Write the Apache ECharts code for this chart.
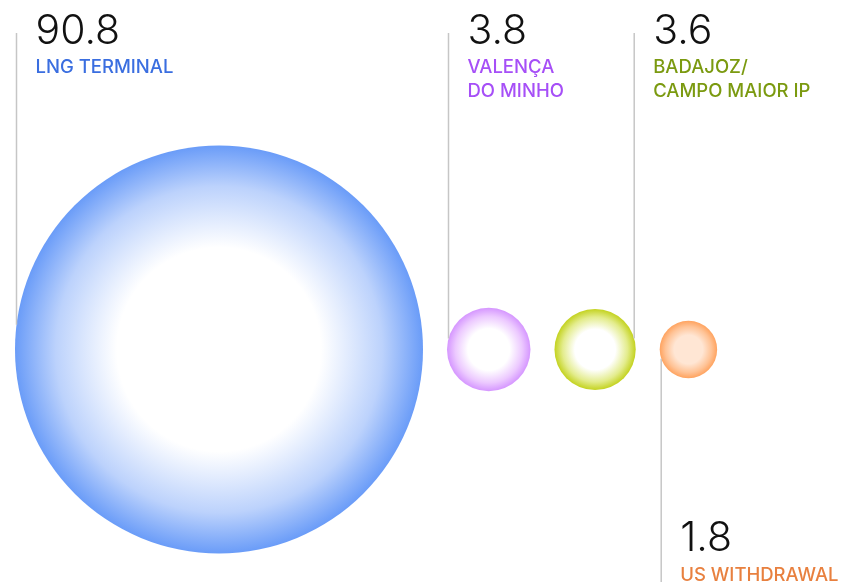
<!DOCTYPE html>
<html>
<head>
<meta charset="utf-8">
<script src="https://cdn.jsdelivr.net/npm/echarts@6/dist/echarts.min.js"></script>
<style>
html,body{margin:0;padding:0;background:#fff;}
#chart{width:843px;height:582px;}
</style>
</head>
<body>
<div id="chart"></div>
<script>
// ---- data ----
const categories = ['LNG TERMINAL', 'VALENÇA\nDO MINHO', 'BADAJOZ/\nCAMPO MAIOR IP', 'US WITHDRAWAL'];
const values = [90.8, 3.8, 3.6, 1.8];
const valueLabels = ['90.8', '3.8', '3.6', '1.8'];

// ---- styles ----
const edgeColors = ['#6a9cf8', '#d596ff', '#c3d21e', '#ffa35f'];
const midColors = ['#bcd2fc', '#ecc9ff', '#e3ec8c', '#ffc396'];
const coreColors = ['#ffffff', '#ffffff', '#ffffff', '#ffe6d4'];
const labelColors = ['#3a6ee0', '#a64ff7', '#7b9a10', '#e8803f'];
const leaderSide = ['left', 'left', 'right', 'left'];
const leaderDir = ['up', 'up', 'up', 'down'];

const W = 843, H = 582;
const MAX_R = 204, GAP = 24, START_X = 15, CY = 349.5;
const maxV = Math.max.apply(null, values);
const radii = values.map(v => MAX_R * Math.sqrt(v / maxV));
const centers = [];
let edge = START_X;
radii.forEach((r, i) => { centers.push(edge + r); edge += 2 * r + GAP; });

const seriesData = values.map((v, i) => [centers[i], CY, v, i]);

const chart = echarts.init(document.getElementById('chart'), null, {renderer: 'canvas'});

function renderItem(params, api) {
  const i = api.value(3);
  const c = api.coord([api.value(0), api.value(1)]);
  const r = api.size([radii[i], 0])[0];
  const children = [];
  children.push({
    type: 'circle',
    shape: {cx: c[0], cy: c[1], r: r},
    style: {
      fill: {
        type: 'radial', x: 0.5, y: 0.5, r: 0.5,
        colorStops: [
          {offset: 0, color: coreColors[i]},
          {offset: 0.5, color: coreColors[i]},
          {offset: 0.8, color: midColors[i]},
          {offset: 1, color: edgeColors[i]}
        ]
      }
    }
  });
  const inset = 1.5;
  const lx = leaderSide[i] === 'left' ? c[0] - r + inset : c[0] + r - inset;
  const dx = lx - c[0];
  const dy = Math.sqrt(Math.max(r * r - dx * dx, 0));
  let y1, y2;
  if (leaderDir[i] === 'up') { y1 = 33; y2 = c[1] - dy; }
  else { y1 = c[1] + dy; y2 = H; }
  children.push({
    type: 'line',
    shape: {x1: lx, y1: y1, x2: lx, y2: y2},
    style: {stroke: '#c6c6c6', lineWidth: 1.5}
  });
  const tx = lx + 19;
  const numTop = leaderDir[i] === 'up' ? 11 : 518;
  const labTop = leaderDir[i] === 'up' ? 55 : 563;
  children.push({
    type: 'text',
    style: {
      x: tx, y: numTop, text: valueLabels[i],
      fill: '#111111',
      font: '300 41px Inter, "Noto Sans", sans-serif',
      align: 'left', verticalAlign: 'top'
    }
  });
  children.push({
    type: 'text',
    style: {
      x: tx, y: labTop, text: categories[i],
      fill: labelColors[i],
      font: '500 18.5px Inter, "Noto Sans", sans-serif',
      lineHeight: 24,
      align: 'left', verticalAlign: 'top'
    }
  });
  return {type: 'group', children: children};
}

chart.setOption({
  animation: false,
  backgroundColor: '#ffffff',
  grid: {left: 0, right: 0, top: 0, bottom: 0},
  xAxis: {type: 'value', min: 0, max: W, show: false},
  yAxis: {type: 'value', min: 0, max: H, inverse: true, show: false},
  series: [{
    type: 'custom',
    renderItem: renderItem,
    clip: false,
    data: seriesData
  }]
});
</script>
</body>
</html>
